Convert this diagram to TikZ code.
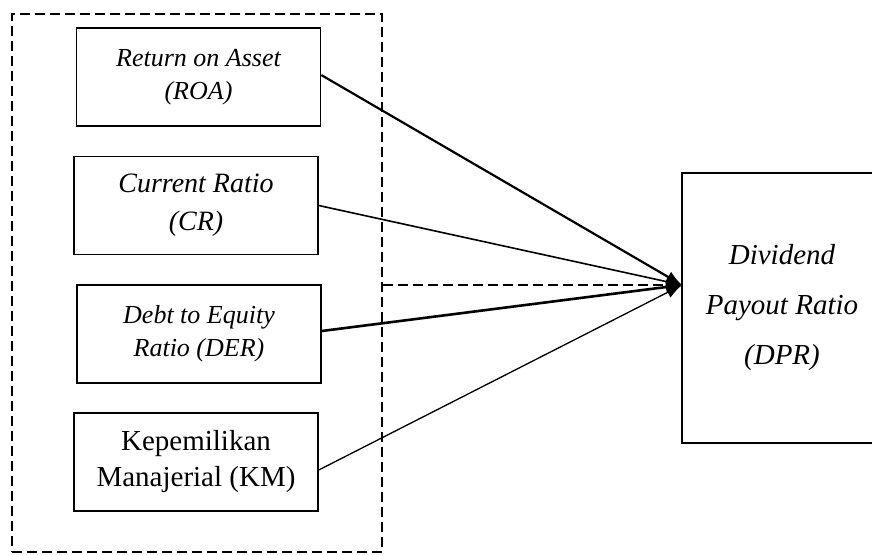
\documentclass[tikz,border=0pt]{standalone}
\usepackage{fontspec}
\setmainfont{Liberation Serif}
\usetikzlibrary{arrows.meta}

\tikzset{
varbox/.style={draw, line width=0.75pt, minimum width=122pt, minimum height=49pt, align=center, inner sep=0pt},
frame/.style={draw, dashed, dash pattern=on 5pt off 2.5pt, line width=0.75pt},
effect/.style={-{Latex[length=8pt,width=6pt]}},
}

\begin{document}
\begin{tikzpicture}[x=0.5pt,y=-0.5pt]
\clip (0,0) rectangle (872,554);

\coordinate (T) at (682,285);

%frame round the independent variables:
\node[frame, minimum width=185pt, minimum height=269pt] (indep) at (197,283) {};

%variables:
\node[varbox, font=\fontsize{13}{16.5}\selectfont\itshape] (roa) at (198.5,77) {Return on Asset\\(ROA)};
\node[varbox, font=\fontsize{14}{19}\selectfont\itshape] (cr) at (196,205.5) {Current Ratio\\(CR)};
\node[varbox, font=\fontsize{13}{16.5}\selectfont\itshape] (der) at (199,334) {Debt to Equity\\Ratio (DER)};
\node[varbox, font=\fontsize{14.5}{18}\selectfont] (km) at (196,462) {Kepemilikan\\Manajerial (KM)};
\node[varbox, minimum width=100pt, minimum height=135pt, font=\fontsize{14.5}{25}\selectfont\itshape] (dpr) at (782,308) {Dividend\\Payout Ratio\\(DPR)};

%effects:
\draw[frame] (indep.east |- T) -- (T);
\draw[effect, line width=1.1pt] ([yshift=1pt]roa.east) -- (T);
\draw[effect, line width=0.8pt] (cr.east) -- (T);
\draw[effect, line width=1.3pt] ([yshift=1.5pt]der.east) -- (T);
\draw[effect, line width=0.65pt] ([yshift=-4pt]km.east) -- (T);

\end{tikzpicture}
\end{document}
